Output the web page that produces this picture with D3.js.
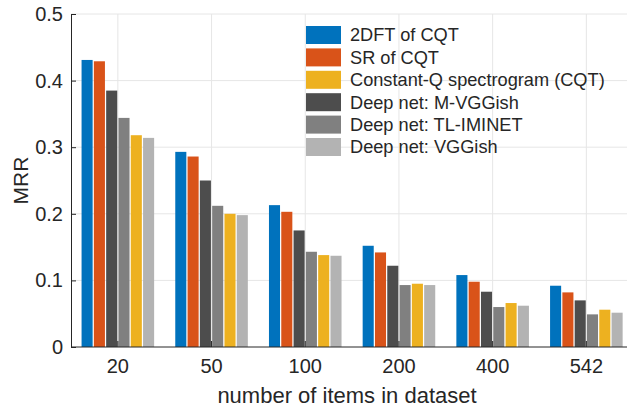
<!DOCTYPE html>
<html>
<head>
<meta charset="utf-8">
<script src="https://cdn.jsdelivr.net/npm/d3@7"></script>
<style>
  body { margin: 0; background: #fff; }
  text { font-family: "Liberation Sans", Arial, Helvetica, sans-serif; fill: #262626; }
</style>
</head>
<body>
<div id="chart"></div>
<script>
// data
var groups = ["20", "50", "100", "200", "400", "542"];
var seriesNames = ["2DFT of CQT", "SR of CQT", "Constant-Q spectrogram (CQT)",
                   "Deep net: M-VGGish", "Deep net: TL-IMINET", "Deep net: VGGish"];
var seriesColors = ["#0072BD", "#D95319", "#EDB120", "#4d4d4d", "#808080", "#b3b3b3"];
var dft2 =    [0.431, 0.293, 0.213, 0.152, 0.108, 0.092];
var srCqt =   [0.429, 0.286, 0.203, 0.142, 0.098, 0.082];
var cqt =     [0.318, 0.200, 0.138, 0.095, 0.066, 0.056];
var mVggish = [0.385, 0.250, 0.175, 0.122, 0.083, 0.070];
var tlIminet =[0.344, 0.212, 0.143, 0.093, 0.060, 0.049];
var vggish =  [0.314, 0.198, 0.137, 0.093, 0.062, 0.0515];
var seriesValues = [dft2, srCqt, cqt, mVggish, tlIminet, vggish];
// order in which bars sit inside each group (index into series)
var barOrder = [0, 1, 3, 4, 2, 5];
var yTicks = [0, 0.1, 0.2, 0.3, 0.4, 0.5];

var W = 627, H = 408;
var margin = {top: 14, left: 71, bottom: 61};
var plotH = H - margin.top - margin.bottom;
var groupW = 93.7;

var svg = d3.select("#chart").append("svg")
    .attr("width", W).attr("height", H);

var x = d3.scaleBand()
    .domain(groups)
    .range([margin.left, margin.left + groupW * groups.length])
    .paddingInner(0).paddingOuter(0);

var xs = d3.scaleBand()
    .domain(barOrder)
    .range([-36.9, 36.9])
    .paddingInner(0.1).paddingOuter(0.05);

var y = d3.scaleLinear()
    .domain([0, 0.5])
    .range([margin.top + plotH, margin.top]);

var gridColor = "#e6e6e6";
var axisColor = "#262626";

// grid
svg.append("g").selectAll("line.hg")
  .data(yTicks.slice(1))
  .enter().append("line")
    .attr("x1", margin.left).attr("x2", W)
    .attr("y1", d => y(d)).attr("y2", d => y(d))
    .attr("stroke", gridColor).attr("stroke-width", 1);

svg.append("g").selectAll("line.vg")
  .data(groups)
  .enter().append("line")
    .attr("x1", d => x(d) + x.bandwidth() / 2).attr("x2", d => x(d) + x.bandwidth() / 2)
    .attr("y1", y(0)).attr("y2", y(0.5))
    .attr("stroke", gridColor).attr("stroke-width", 1);

// bars
var bars = [];
groups.forEach(function(g, gi){
  barOrder.forEach(function(si){
    bars.push({group: g, s: si, v: seriesValues[si][gi]});
  });
});

svg.append("g").selectAll("rect")
  .data(bars)
  .enter().append("rect")
    .attr("x", d => x(d.group) + x.bandwidth() / 2 + xs(d.s))
    .attr("width", xs.bandwidth())
    .attr("y", d => y(d.v))
    .attr("height", d => y(0) - y(d.v))
    .attr("fill", d => seriesColors[d.s]);

// axes
var yAxis = svg.append("g")
    .attr("transform", "translate(" + margin.left + ",0)")
    .call(d3.axisLeft(y).tickValues(yTicks).tickSize(-5).tickPadding(8)
      .tickFormat(d => d === 0 ? "0" : d3.format(".1f")(d)));
yAxis.select(".domain").attr("stroke", axisColor);
yAxis.selectAll(".tick line").attr("stroke", axisColor);
yAxis.selectAll("text").style("font-size", "20px").attr("fill", axisColor);

var xAxis = svg.append("g")
    .attr("transform", "translate(0," + y(0) + ")")
    .call(d3.axisBottom(x).tickSize(-6).tickPadding(12));
xAxis.select(".domain").attr("stroke", axisColor).attr("d", "M" + margin.left + ",0H" + (W + 10));
xAxis.selectAll(".tick line").attr("stroke", axisColor);
xAxis.selectAll("text").style("font-size", "20px").attr("fill", axisColor);

// axis titles
svg.append("text")
    .attr("transform", "translate(28," + (margin.top + plotH / 2) + ")rotate(-90)")
    .attr("text-anchor", "middle")
    .style("font-size", "21px")
    .text("MRR");

svg.append("text")
    .attr("x", 347).attr("y", 403)
    .attr("text-anchor", "middle")
    .style("font-size", "22px")
    .text("number of items in dataset");

// legend (transparent, no box)
var legend = svg.append("g").attr("transform", "translate(306,26)");
var items = legend.selectAll("g")
  .data(seriesNames)
  .enter().append("g")
    .attr("transform", (d, i) => "translate(0," + (i * 22.4) + ")");
items.append("rect")
    .attr("width", 35).attr("height", 18)
    .attr("fill", (d, i) => seriesColors[i]);
items.append("text")
    .attr("x", 44).attr("y", 9)
    .attr("dy", "0.35em")
    .style("font-size", "18.2px")
    .text(d => d);
</script>
</body>
</html>
